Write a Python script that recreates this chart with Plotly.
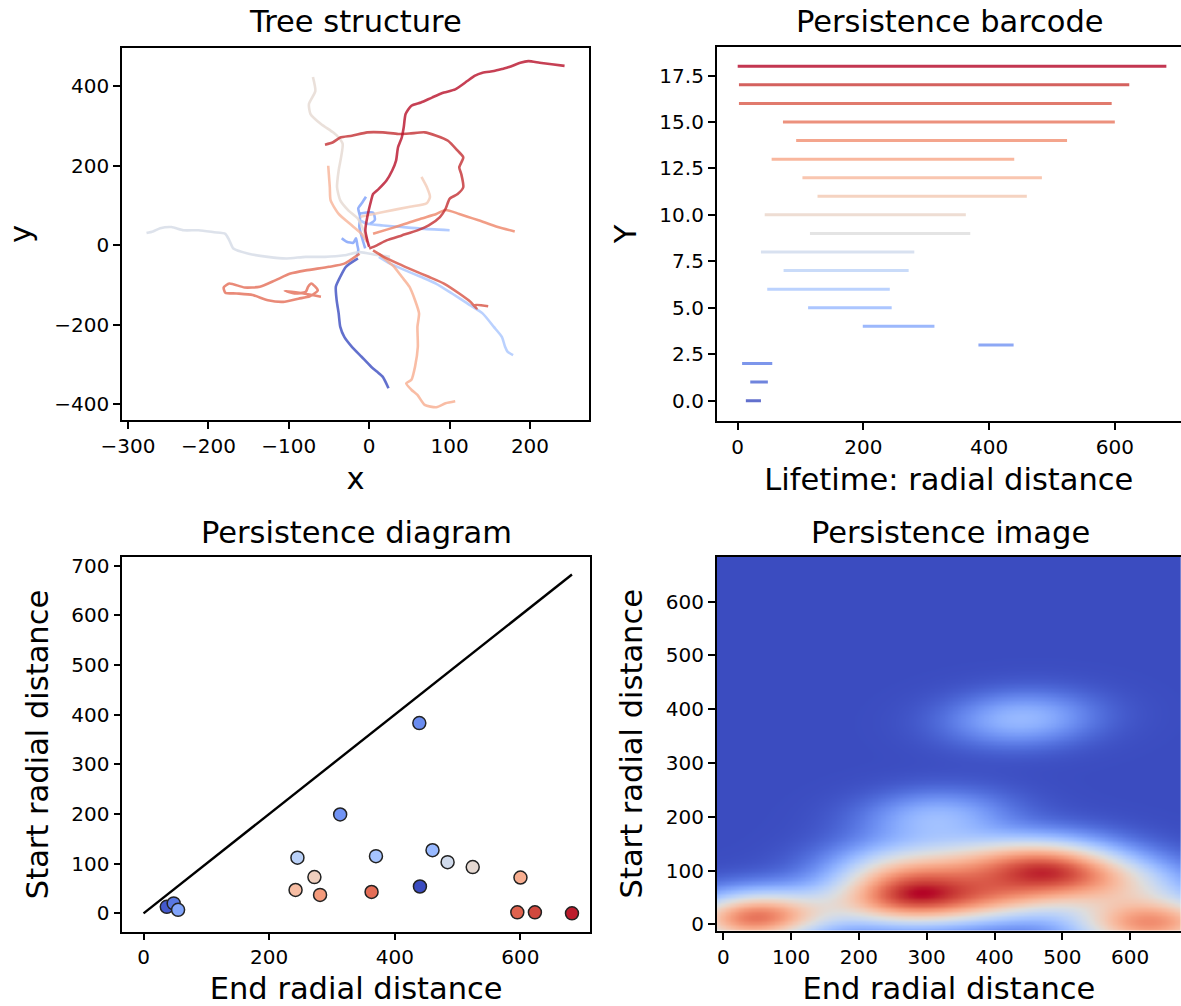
import numpy as np
import plotly.graph_objects as go

W, H = 1181, 1006
FONT = "DejaVu Sans"

# ---------------- persistence bars, sorted by lifetime ----------------
bar_start = [13, 20, 7, 383, 199, 112, 47, 73, 37, 115, 43, 127, 103, 54, 93, 72, 2, 2, 0]
bar_end = [37, 48, 55, 439, 313, 245, 242, 272, 281, 370, 363, 460, 484, 440, 524, 600, 595, 623, 682]
# colormap position of each point in the persistence diagram
point_shade = [0.03, 0.10, 0.22, 0.15, 0.17, 0.38, 0.65, 0.58, 0.75, 0.32,
               0.85, 0.28, 0.45, 0.00, 0.53, 0.70, 0.87, 0.92, 0.98]

# ---------------- neurite branches (x, y) ----------------
apical_x = [0, -2.4, -4.8, -2.4, 2.4, 4.8, 11.9, 21.5, 28.6, 33.4, 35.8, 40.5, 42.9, 45.3, 52.5, 64.4,
            78.7, 93, 107, 122, 131, 141, 155, 165, 174, 188, 198, 212, 227, 243]
apical_y = [-4, 12.5, 37.6, 71, 112.7, 129, 142, 163, 188, 213, 246, 271, 296, 330, 351, 359,
            372, 384, 392, 413, 426, 434, 438, 443, 448, 459, 463, 459, 455, 451]
loop_x = [0, 9.5, 21.5, 40.5, 60, 74, 88, 95, 100, 110, 117, 114.5, 112, 117, 110, 98, 83.5, 69,
          50, 36, 17, -2.4, -21.5, -36, -45, -55]
loop_y = [-8, 0, 12.5, 25, 37.6, 50, 71, 92, 117, 129, 146, 179.5, 196, 221, 238, 263, 275.5, 284,
          281, 280, 284, 284, 275.5, 271, 259, 253]
lower_right_x = [4.8, 17, 36, 55, 74, 93, 112, 126, 133.5, 131, 148]
lower_right_y = [-12.5, -27.5, -46, -63, -79, -96, -121, -142, -159, -150, -153]
left_tangle_x = [-12, -31, -50, -79, -98, -117, -136, -155, -174, -181, -179, -165, -145, -126, -107,
                 -88, -74, -64, -72, -76, -79, -93, -105, -85, -60]
left_tangle_y = [-21, -46, -54, -63, -71, -88, -104, -106, -96, -106, -119, -121, -125, -138, -142,
                 -134, -128, -113, -96, -104, -117, -121, -114, -120, -129]
right_x = [4.8, 26, 45, 64, 83.5, 95, 112, 136, 160, 181]
right_y = [29, 42, 54, 67, 79, 89, 79, 63, 46, 35]
down_right_x = [12, 21.5, 31, 40.5, 50, 57, 62, 60, 60.5, 57, 52.5, 46, 52.5, 60, 69, 83.5, 95, 107]
down_right_y = [-21, -37.6, -54, -79, -104, -138, -171, -205, -255, -305, -338, -347, -363, -376,
                -401, -407, -397, -392]
up_left_x = [-2.4, -9.5, -24, -38, -48, -49, -51]
up_left_y = [8, 29, 54, 79, 113, 146, 200]
hook_x = [-11, 17.5, 50.7, 71.5, 75.6, 71.5, 65]
hook_y = [72, 84, 97, 105.6, 122, 147, 172]
top_x = [-2.4, -7, -14, -26, -36, -40, -38, -35, -33, -38, -45, -60, -73, -75, -67, -70]
top_y = [12.5, 38, 67, 88, 113, 146, 188, 221, 255, 271, 284, 305, 330, 355, 388, 423]
west_x = [25.9, 9.3, -12, -31, -55, -79, -103, -126, -150, -169, -174, -179, -193, -212, -231,
          -246, -260, -269, -277]
west_y = [-28.6, -24.4, -17, -25, -29, -29, -33, -29, -21, -8, 12.5, 29, 33, 38, 38, 46, 43, 35, 31]
southeast_x = [12, 26, 45, 64, 83, 103, 122, 141, 155, 165, 169, 172, 179]
southeast_y = [-29, -46, -63, -79, -96, -121, -146, -171, -205, -230, -255, -267, -276]
east_x = [-12, -2.4, 17, 40.5, 64, 100]
east_y = [63, 54, 50, 46, 42, 38]
twig_x = [-5, -9.3, -12.3, -11.4, -13.6, -9.3, -4]
twig_y = [-7.5, 21.6, 46.8, 71.9, 93, 105.6, 122]
spur_x = [-11.4, 5, 7, 1]
spur_y = [80, 82, 64, 54]
stub_x = [-34.2, -28, -19.8, -16.4, -14.8, -13.6, -15.5]
stub_y = [17.6, 9, 6.5, 17.6, 0.8, -11.8, -27]
south_x = [-14, -29, -36, -41.5, -40.5, -38, -36, -31, -21.5, -9.5, 2.4, 9.5, 16.7, 24]
south_y = [-33, -54, -79, -104, -138, -171, -205, -230, -255, -280, -305, -317, -330, -359]

branches = [
    (south_x, south_y, 0.0),
    (stub_x, stub_y, 0.20),
    (twig_x, twig_y, 0.20),
    (spur_x, spur_y, 0.22),
    (east_x, east_y, 0.30),
    (southeast_x, southeast_y, 0.33),
    (west_x, west_y, 0.47),
    (top_x, top_y, 0.53),
    (hook_x, hook_y, 0.60),
    (up_left_x, up_left_y, 0.68),
    (down_right_x, down_right_y, 0.70),
    (right_x, right_y, 0.80),
    (left_tangle_x, left_tangle_y, 0.85),
    (lower_right_x, lower_right_y, 0.90),
    (loop_x, loop_y, 0.96),
    (apical_x, apical_y, 0.99),
]

# ---------------- coolwarm colormap ----------------
CW = [(59, 76, 192), (68, 90, 204), (77, 104, 215), (87, 117, 225), (98, 130, 234), (108, 142, 241),
      (119, 154, 247), (130, 165, 251), (141, 176, 254), (152, 185, 255), (163, 194, 255),
      (174, 201, 253), (184, 208, 249), (194, 213, 244), (204, 217, 238), (213, 219, 230),
      (221, 221, 221), (229, 216, 209), (236, 211, 197), (241, 204, 185), (245, 196, 173),
      (247, 187, 160), (247, 177, 148), (247, 166, 135), (244, 154, 123), (241, 141, 111),
      (236, 127, 99), (229, 112, 88), (222, 96, 77), (213, 80, 66), (203, 62, 56), (192, 40, 47),
      (180, 4, 38)]


def coolwarm(v, alpha=1.0):
    v = min(max(v, 0.0), 1.0) * (len(CW) - 1)
    i = min(int(v), len(CW) - 2)
    f = v - i
    c = [CW[i][k] + (CW[i + 1][k] - CW[i][k]) * f for k in range(3)]
    return "rgba(%d,%d,%d,%.2f)" % (round(c[0]), round(c[1]), round(c[2]), alpha)


cw_scale = [[i / (len(CW) - 1), "rgb(%d,%d,%d)" % c] for i, c in enumerate(CW)]

fig = go.Figure()

# Tree structure
for bx, by, shade in branches:
    fig.add_trace(go.Scatter(x=bx, y=by, mode="lines", xaxis="x", yaxis="y",
                             line=dict(color=coolwarm(shade, 0.8), width=2.6, shape="spline",
                                       smoothing=0.6),
                             hoverinfo="skip", showlegend=False))

# Persistence barcode
n_bars = len(bar_start)
for i, (s, e) in enumerate(zip(bar_start, bar_end)):
    fig.add_trace(go.Scatter(x=[s, e], y=[i, i], mode="lines", xaxis="x2", yaxis="y2",
                             line=dict(color=coolwarm(i / (n_bars - 1), 0.8), width=3),
                             hoverinfo="skip", showlegend=False))

# Persistence diagram
top = max(bar_end)
fig.add_trace(go.Scatter(x=[0, top], y=[0, top], mode="lines", xaxis="x3", yaxis="y3",
                         line=dict(color="black", width=2.4), showlegend=False))
fig.add_trace(go.Scatter(x=bar_end, y=bar_start, mode="markers", xaxis="x3", yaxis="y3",
                         marker=dict(size=13, color=[coolwarm(v) for v in point_shade],
                                     line=dict(color="#222222", width=1.5)),
                         showlegend=False))

# Persistence image: Gaussian KDE of the diagram points
pts = np.array([bar_end, bar_start], dtype=float)
n = pts.shape[1]
bw = 0.38
cov = np.cov(pts) * bw ** 2
inv = np.linalg.inv(cov)
gx = np.linspace(-20, 700, 300)
gy = np.linspace(-20, 700, 300)
GX, GY = np.meshgrid(gx, gy)
Z = np.zeros_like(GX)
for k in range(n):
    dx = GX - pts[0, k]
    dy = GY - pts[1, k]
    q = inv[0, 0] * dx * dx + 2 * inv[0, 1] * dx * dy + inv[1, 1] * dy * dy
    Z += np.exp(-0.5 * q)
Z /= Z.max()
fig.add_trace(go.Heatmap(x=gx, y=gy, z=Z, xaxis="x4", yaxis="y4", colorscale=cw_scale,
                         zmin=0, zmax=1, zsmooth="best", showscale=False, hoverinfo="skip"))


def px(x):
    return x / W


def py(y):
    return 1 - y / H


tick_font = dict(family=FONT, size=20, color="black")
label_font = dict(family=FONT, size=30.5, color="black")


def axis(domain, rng, tickvals, title, standoff, tickformat=None, mirror=True, anchor=None):
    d = dict(domain=domain, range=rng, showgrid=False, zeroline=False, showline=True,
             linecolor="black", linewidth=1.6, mirror=mirror, ticks="outside", ticklen=7,
             tickwidth=1.6, tickcolor="black", tickfont=tick_font, anchor=anchor,
             tickmode="array", tickvals=tickvals,
             title=dict(text=title, font=label_font, standoff=standoff))
    if tickformat:
        d["tickformat"] = tickformat
    return d


XS, YS = 11, 14
layout = dict(
    width=W, height=H, autosize=False, margin=dict(l=0, r=0, t=0, b=0, autoexpand=False),
    paper_bgcolor="white", plot_bgcolor="white", showlegend=False,
    xaxis=axis([px(122), px(589)], [-307.5, 273.4], [-300, -200, -100, 0, 100, 200], "x", XS, anchor="y"),
    yaxis=axis([py(420), py(48)], [-439, 496], [-400, -200, 0, 200, 400], "y", YS, anchor="x"),
    xaxis2=axis([px(716.7), 1.0], [-33.4, 705.3], [0, 200, 400, 600], "Lifetime: radial distance", XS,
                anchor="y2"),
    yaxis2=axis([py(420.7), py(47.3)], [-1.08, 19.02], [0, 2.5, 5, 7.5, 10, 12.5, 15, 17.5], "Y", YS,
                tickformat=".1f", mirror=False, anchor="x2"),
    xaxis3=axis([px(122.3), px(590)], [-33.8, 710.7], [0, 200, 400, 600], "End radial distance", XS,
                anchor="y3"),
    yaxis3=axis([py(931.6), py(557.3)], [-36.8, 716.7], [0, 100, 200, 300, 400, 500, 600, 700],
                "Start radial distance", YS, anchor="x3"),
    xaxis4=axis([px(716.7), 1.0], [-9.7, 675], [0, 100, 200, 300, 400, 500, 600], "End radial distance",
                XS, anchor="y4"),
    yaxis4=axis([py(930.7), py(556.7)], [-11.9, 683.5], [0, 100, 200, 300, 400, 500, 600],
                "Start radial distance", YS, mirror=False, anchor="x4"),
)


def note(text, x, y):
    return dict(text=text, x=px(x), y=py(y), xref="paper", yref="paper", showarrow=False,
                xanchor="center", yanchor="middle", font=label_font)


layout["annotations"] = [
    note("Tree structure", 355.5, 22),
    note("Persistence barcode", 950.2, 22),
    note("Persistence diagram", 356, 532),
    note("Persistence image", 950.2, 532),
]

fig.update_layout(**layout)
fig.write_html("out.html")
